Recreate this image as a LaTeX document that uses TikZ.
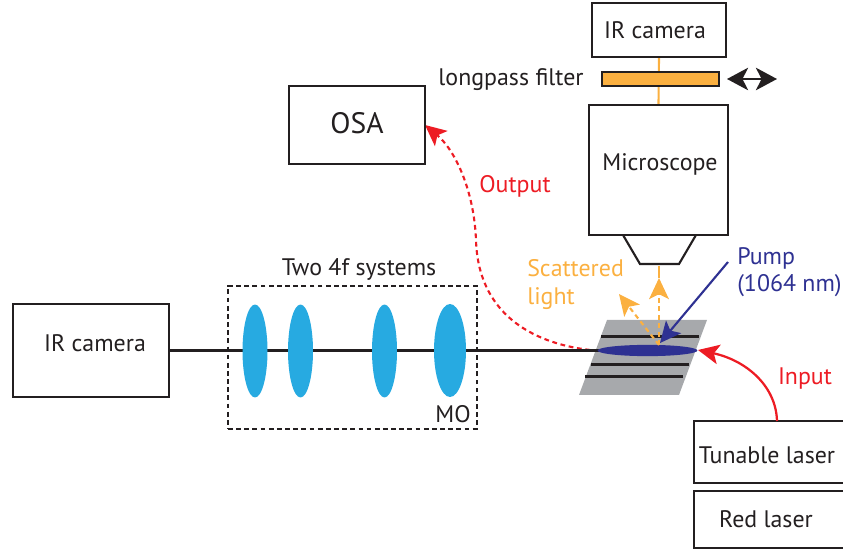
\documentclass[tikz,border=0pt]{standalone}
\usepackage{fontspec}
\setmainfont{PT Sans}
\usetikzlibrary{arrows.meta,positioning,calc,shapes.geometric}
\definecolor{InkBlack}{HTML}{231F20}
\definecolor{LensBlue}{HTML}{27AAE1}
\definecolor{PumpBlue}{HTML}{2E3192}
\definecolor{ScatterOrange}{HTML}{FBB040}
\definecolor{SignalRed}{HTML}{ED1C24}
\definecolor{SampleGray}{HTML}{A7A9AC}
\tikzset{
  boxnode/.style={draw=InkBlack,line width=1.5pt,fill=white,inner sep=0pt},
  lbl/.style={font=\fontsize{17}{19}\selectfont,text=InkBlack,inner sep=0pt},
  lens/.style={ellipse,fill=LensBlue,inner sep=0pt},
  beam/.style={InkBlack,line width=1.6pt},
  tipbig/.style={-{Stealth[length=15pt,width=14pt,inset=3.5pt]}}
}
\begin{document}
\begin{tikzpicture}[x=.025cm,y=-.025cm]
\useasboundingbox (0,0) rectangle (843,550);
\coordinate (linestart) at (169,350.5);
\coordinate (lineend) at (602,350.5);
\fill[SampleGray] (607,320) -- (707,320) -- (679,395) -- (579,395) -- cycle;
\foreach \xa/\xb/\y in {601/699/336.5,591/689/364.5,585/683/376.5}{\draw[beam] (\xa,\y) -- (\xb,\y);}
\coordinate (outstart) at (590,350);
\coordinate (outtip) at (425,125);
\draw[SignalRed,line width=1.5pt,dash pattern=on 3.4pt off 2.6pt,tipbig] (outstart) .. controls (530,343) and (478,312) .. (476,240) .. controls (474,190) and (455,150) .. (outtip);
\draw[beam] (linestart) -- (lineend);
\node[lens,minimum width=25*.711pt,minimum height=93*.711pt] (lensa) at (255,351) {};
\node[lens,minimum width=25*.711pt,minimum height=93*.711pt] (lensb) at (300.5,351) {};
\node[lens,minimum width=25*.711pt,minimum height=93*.711pt] (lensc) at (384.5,351) {};
\node[lens,minimum width=32*.711pt,minimum height=93*.711pt] (lensd) at (450,350.5) {};
\node[draw=InkBlack,line width=1.8pt,dash pattern=on 3.4pt off 2.4pt,minimum width=249*.711pt,minimum height=143*.711pt,inner sep=0pt] (fourf) at (352.5,357.5) {};
\node[ellipse,fill=PumpBlue,minimum width=71pt,minimum height=8pt,inner sep=0pt] (spot) at (647.5,350.5) {};
\node[boxnode,minimum width=156*.711pt,minimum height=93*.711pt] (cameraleft) at (91,350.5) {};
\node[boxnode,minimum width=136*.711pt,minimum height=78*.711pt] (osa) at (357,125) {};
\coordinate (objleft) at (623,235);
\coordinate (objright) at (696,235);
\draw[InkBlack,line width=1.5pt] (objleft) -- (640,264) -- (679,264) -- (objright);
\coordinate (objbot) at (659,264);
\node[boxnode,minimum width=134*.711pt,minimum height=54*.711pt] (cameratop) at (659,30) {};
\node[boxnode,minimum width=139*.711pt,minimum height=130*.711pt] (scope) at (658.5,170) {};
\draw[ScatterOrange,line width=1.5pt] (cameratop.south) -- (scope.north);
\node[draw=InkBlack,fill=ScatterOrange,line width=1.5pt,minimum width=117*.711pt,minimum height=14*.711pt,inner sep=0pt] (filter) at (660.5,79) {};
\coordinate (slideleft) at (727,79);
\coordinate (slideright) at (777,79);
\draw[{Stealth[length=15pt,width=16pt,inset=4pt]}-{Stealth[length=15pt,width=16pt,inset=4pt]},InkBlack,line width=1.3pt] (slideleft) -- (slideright);
\coordinate (scatterstart) at (659,345);
\coordinate (scattertip) at (619,294);
\coordinate (uptip) at (659,278);
\draw[ScatterOrange,line width=1.5pt,dash pattern=on 3.4pt off 2.6pt,tipbig] (scatterstart) -- (scattertip);
\draw[ScatterOrange,line width=1.5pt,dash pattern=on 3.4pt off 2.6pt,tipbig] (scatterstart) -- (uptip);
\draw[ScatterOrange,line width=1.5pt] (objbot) ++(0,2) -- (uptip);
\coordinate (pumpstart) at (728,262);
\coordinate (pumptip) at (660,343);
\draw[PumpBlue,line width=1.5pt,tipbig] (pumpstart) -- (pumptip);
\node[boxnode,minimum width=160*.711pt,minimum height=62*.711pt] (tunable) at (774,452) {};
\node[boxnode,minimum width=160*.711pt,minimum height=57*.711pt] (redlaser) at (774,519.5) {};
\coordinate (intip) at (698,350);
\draw[SignalRed,line width=1.6pt,tipbig] (777,421) .. controls (776,385) and (745,360) .. (intip);
\node[lbl] (camlefttext) at (95,343) {IR camera};
\node[lbl,font=\fontsize{21}{23}\selectfont] (osatext) at (357,123) {OSA};
\node[lbl] (camtoptext) at (655,30) {IR camera};
\node[lbl] (filtertext) at (511,80) {longpass filter};
\node[lbl] (scopetext) at (660,164.5) {Microscope};
\node[lbl] (fourftext) at (359,269) {Two 4f systems};
\node[lbl] (motext) at (453,414) {MO};
\node[lbl] (tunabletext) at (767,455) {Tunable laser};
\node[lbl] (redtext) at (766,519) {Red laser};
\node[lbl,text=SignalRed] (outputtext) at (515,186) {Output};
\node[lbl,text=SignalRed] (inputtext) at (805,379) {Input};
\node[lbl,text=ScatterOrange,anchor=west] (scattertext) at (527,268) {Scattered};
\node[lbl,text=ScatterOrange,anchor=west] (lighttext) at (527,299) {light};
\node[lbl,text=PumpBlue,anchor=west] (pumptext) at (737,258.5) {Pump};
\node[lbl,text=PumpBlue,anchor=west] (wavetext) at (737,286) {(1064 nm)};
\end{tikzpicture}
\end{document}
